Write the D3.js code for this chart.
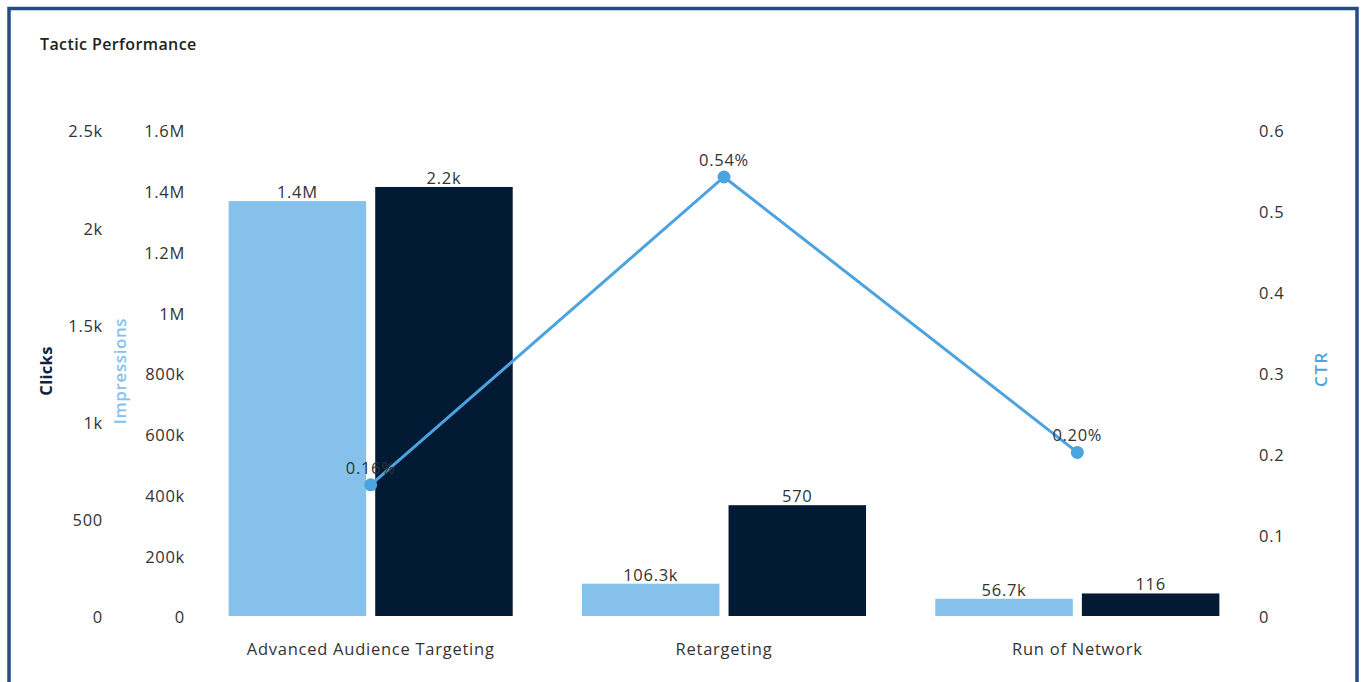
<!DOCTYPE html>
<html><head><meta charset="utf-8">
<script src="https://cdn.jsdelivr.net/npm/d3@7"></script>
<style>
html,body{margin:0;padding:0;background:#fff;}
svg{display:block;font-family:"Open Sans",sans-serif;}
</style></head>
<body><svg id="c" width="1364" height="682"></svg>
<script>
const categories = ["Advanced Audience Targeting", "Retargeting", "Run of Network"];
const impressions = [1366000, 106300, 56700];
const impressionLabels = ["1.4M", "106.3k", "56.7k"];
const clicks = [2207, 570, 116];
const clickLabels = ["2.2k", "570", "116"];
const ctr = [0.162, 0.542, 0.202];
const ctrLabels = ["0.16%", "0.54%", "0.20%"];
const impTicks = [0, 200000, 400000, 600000, 800000, 1000000, 1200000, 1400000, 1600000];
const impTickLabels = ["0", "200k", "400k", "600k", "800k", "1M", "1.2M", "1.4M", "1.6M"];
const clickTicks = [0, 500, 1000, 1500, 2000, 2500];
const clickTickLabels = ["0", "500", "1k", "1.5k", "2k", "2.5k"];
const ctrTicks = [0, 0.1, 0.2, 0.3, 0.4, 0.5, 0.6];
const ctrTickLabels = ["0", "0.1", "0.2", "0.3", "0.4", "0.5", "0.6"];

(function () {
const svg = d3.select("#c");
const plotTop = 130, plotBottom = 616;
const impColor = "#85c1ea", clickColor = "#021a33", lineColor = "#4ba3e0";
const textColor = "#333";
const fs = 16.5, ls = 0.7;

// frame
svg.append("rect").attr("x", 9).attr("y", 8.5).attr("width", 1348).attr("height", 690)
  .attr("fill", "none").attr("stroke", "#234d85").attr("stroke-width", 3.5);

svg.append("text").attr("x", 40).attr("y", 50).text("Tactic Performance")
  .attr("font-size", 16).attr("font-weight", 600).attr("fill", "#222").attr("letter-spacing", 0.4);

const x0 = d3.scaleBand().domain(categories).range([194, 1254]).paddingInner(0.196).paddingOuter(0.098);
const x1 = d3.scaleBand().domain(["imp", "clk"]).range([0, x0.bandwidth()]).paddingInner(0.062);
const yImp = d3.scaleLinear().domain([0, 1600000]).range([plotBottom, plotTop]);
const yClk = d3.scaleLinear().domain([0, 2500]).range([plotBottom, plotTop]);
const yCtr = d3.scaleLinear().domain([0, 0.6]).range([plotBottom, plotTop]);

function axisText(g) {
  g.select(".domain").remove();
  g.selectAll(".tick line").remove();
  g.selectAll(".tick text").attr("fill", textColor).attr("font-size", fs)
    .attr("letter-spacing", ls)
    .attr("font-family", "Open Sans, sans-serif").attr("dy", "0.36em");
}
svg.append("g").attr("transform", "translate(103,1)")
  .call(d3.axisLeft(yClk).tickValues(clickTicks).tickSize(0).tickPadding(0)
    .tickFormat((d, i) => clickTickLabels[i])).call(axisText);
svg.append("g").attr("transform", "translate(185,1)")
  .call(d3.axisLeft(yImp).tickValues(impTicks).tickSize(0).tickPadding(0)
    .tickFormat((d, i) => impTickLabels[i])).call(axisText);
svg.append("g").attr("transform", "translate(1259,1)")
  .call(d3.axisRight(yCtr).tickValues(ctrTicks).tickSize(0).tickPadding(0)
    .tickFormat((d, i) => ctrTickLabels[i])).call(axisText);

// axis titles
svg.append("text").attr("transform", "translate(52,371) rotate(-90)").attr("text-anchor", "middle")
  .text("Clicks").attr("font-size", 16.5).attr("font-weight", 700).attr("fill", "#0d2340").attr("letter-spacing", 0.3);
svg.append("text").attr("transform", "translate(126,371) rotate(-90)").attr("text-anchor", "middle")
  .text("Impressions").attr("font-size", 17).attr("font-weight", 600).attr("fill", impColor).attr("letter-spacing", 0.6);
svg.append("text").attr("transform", "translate(1327,369) rotate(-90)").attr("text-anchor", "middle")
  .text("CTR").attr("font-size", 17).attr("font-weight", 600).attr("fill", lineColor).attr("letter-spacing", 1.5);

// x axis labels
svg.append("g").attr("transform", `translate(0,${plotBottom})`)
  .call(d3.axisBottom(x0).tickSize(0).tickPadding(27))
  .call(g => { g.select(".domain").remove();
    g.selectAll(".tick text").attr("fill", textColor).attr("font-size", fs)
      .attr("font-family", "Open Sans, sans-serif").attr("letter-spacing", 0.75); });

const groups = svg.append("g").selectAll("g").data(categories).join("g")
  .attr("transform", d => `translate(${x0(d)},0)`);
groups.append("rect").attr("x", x1("imp")).attr("width", x1.bandwidth())
  .attr("y", (d, i) => yImp(impressions[i])).attr("height", (d, i) => plotBottom - yImp(impressions[i]))
  .attr("fill", impColor);
groups.append("rect").attr("x", x1("clk")).attr("width", x1.bandwidth())
  .attr("y", (d, i) => yClk(clicks[i])).attr("height", (d, i) => plotBottom - yClk(clicks[i]))
  .attr("fill", clickColor);
groups.append("text").attr("x", x1("imp") + x1.bandwidth() / 2).attr("text-anchor", "middle")
  .attr("y", (d, i) => yImp(impressions[i]) - 3).text((d, i) => impressionLabels[i])
  .attr("font-size", fs).attr("letter-spacing", ls).attr("fill", textColor);
groups.append("text").attr("x", x1("clk") + x1.bandwidth() / 2).attr("text-anchor", "middle")
  .attr("y", (d, i) => yClk(clicks[i]) - 3).text((d, i) => clickLabels[i])
  .attr("font-size", fs).attr("letter-spacing", ls).attr("fill", textColor);

// CTR line
const cx = d => x0(d) + x0.bandwidth() / 2;
const line = d3.line().x((d, i) => cx(categories[i])).y(d => yCtr(d));
svg.append("path").datum(ctr).attr("d", line).attr("fill", "none")
  .attr("stroke", lineColor).attr("stroke-width", 3);
svg.append("g").selectAll("circle").data(ctr).join("circle")
  .attr("cx", (d, i) => cx(categories[i])).attr("cy", d => yCtr(d)).attr("r", 6.5)
  .attr("fill", lineColor);
svg.append("g").selectAll("text").data(ctr).join("text")
  .attr("x", (d, i) => cx(categories[i])).attr("y", d => yCtr(d) - 11)
  .attr("text-anchor", "middle").text((d, i) => ctrLabels[i])
  .attr("font-size", fs).attr("letter-spacing", ls).attr("fill", textColor);
})();
</script></body></html>
